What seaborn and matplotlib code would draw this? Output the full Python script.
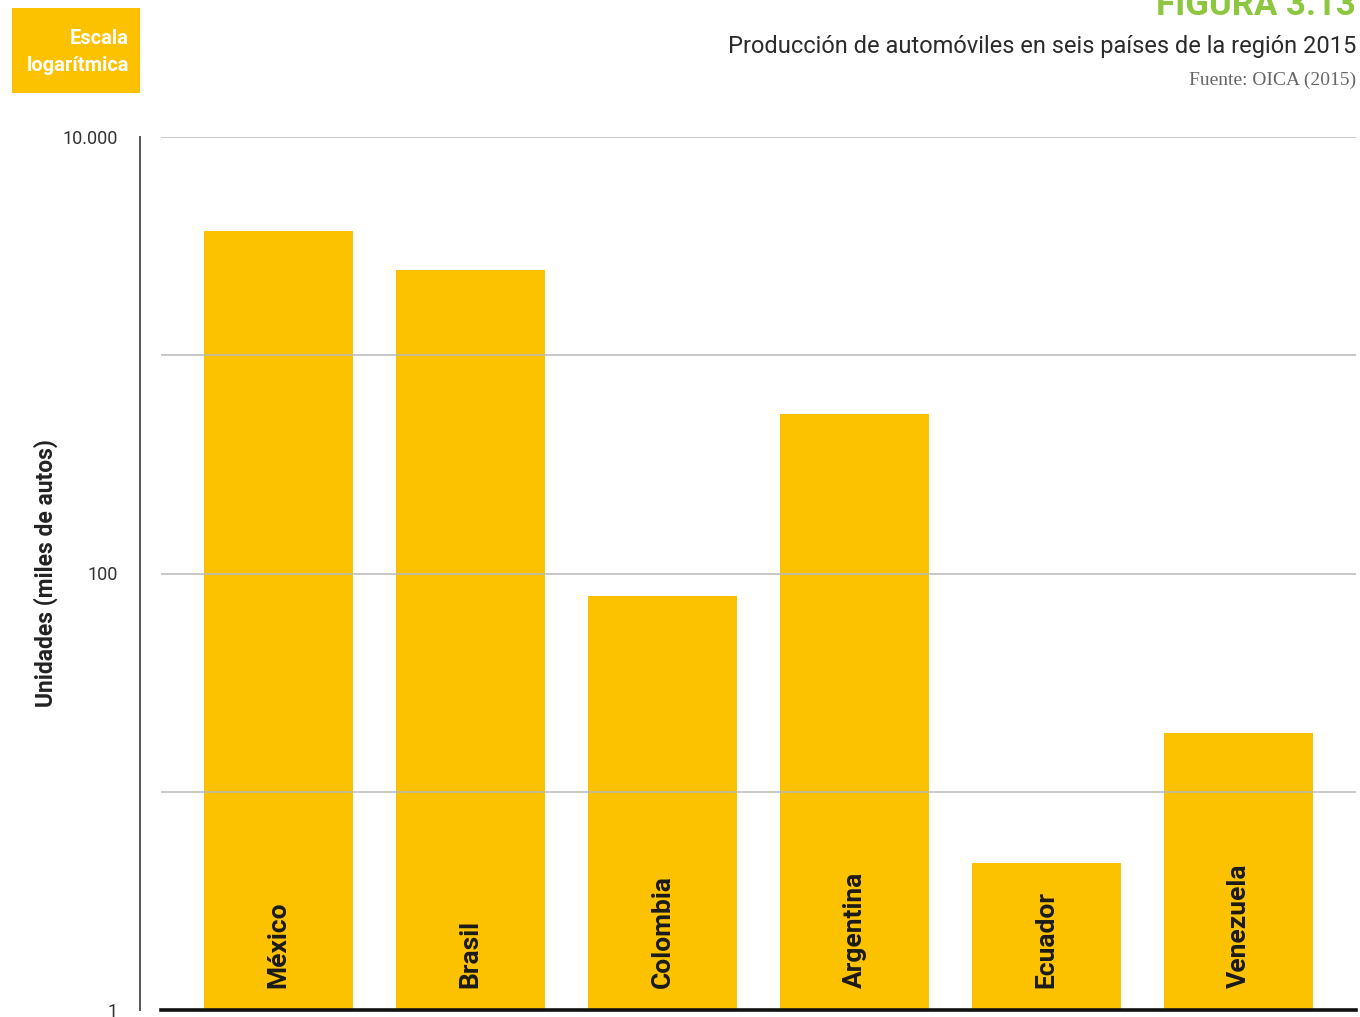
import matplotlib
matplotlib.use("Agg")
import matplotlib.pyplot as plt
import matplotlib.ticker as mticker
import seaborn as sns
import pandas as pd

countries = ["México", "Brasil", "Colombia", "Argentina", "Ecuador", "Venezuela"]
units = [3700, 2450, 79, 540, 4.7, 18.5]  # miles de autos
cap_tick_values = [1, 10000]
cap_tick_labels = ["1", "10.000"]
mid_tick_values = [100]
mid_tick_labels = ["100"]
grid_values = [10, 100, 1000, 10000]

title = "Producción de automóviles en seis países de la región 2015"
figure_tag = "FIGURA 3.13"
source = "Fuente: OICA (2015)"
ylabel = "Unidades (miles de autos)"
badge = "Escala\nlogarítmica"

YELLOW = "#FCC200"
GREEN = "#8DC63F"

sns.set_theme(style="white")
plt.rcParams["font.family"] = ["Roboto", "DejaVu Sans"]

df = pd.DataFrame({"pais": countries, "unidades": units})

fig = plt.figure(figsize=(13.6, 10.17), dpi=100)
W, H = 1360, 1017
ax = fig.add_axes([161 / W, 1 - 1010 / H, (1356 - 161) / W, (1010 - 137) / H])
ax.set_yscale("log")

sns.barplot(data=df, x="pais", y="unidades", color=YELLOW, saturation=1,
            width=0.776, ax=ax, errorbar=None)
for p in ax.patches:
    p.set_zorder(1)
    p.set_linewidth(0)

ax.set_ylim(1, 10000)
ax.set_xlim(-0.612, 5.612)

for g in grid_values:
    ax.axhline(g, color="#b9b9b9", lw=1.1, zorder=3)

# axis styling
for s in ["top", "right"]:
    ax.spines[s].set_visible(False)
ax.spines["bottom"].set_color("#111111")
ax.spines["bottom"].set_linewidth(2.6)
ax.spines["bottom"].set_zorder(4)
ax.spines["left"].set_position(("outward", 15))
ax.spines["left"].set_color("#555555")
ax.spines["left"].set_linewidth(1.4)

ax.yaxis.set_major_locator(mticker.FixedLocator(cap_tick_values))
ax.yaxis.set_major_formatter(mticker.FixedFormatter(cap_tick_labels))
ax.yaxis.set_minor_locator(mticker.FixedLocator(mid_tick_values))
ax.yaxis.set_minor_formatter(mticker.FixedFormatter(mid_tick_labels))
ax.tick_params(axis="y", which="major", length=6, width=1.4, direction="inout",
               color="#555555", pad=13, labelsize=13, labelcolor="#333333")
ax.tick_params(axis="y", which="minor", length=0, pad=16, labelsize=13,
               labelcolor="#333333")
ax.set_xticks([])
ax.set_xlabel("")
ax.set_ylabel("")

# country names inside bars
for i, name in enumerate(countries):
    ax.annotate(name, xy=(i, 1), xytext=(0, 16), textcoords="offset points",
                rotation=90, ha="center", va="bottom", fontsize=19,
                fontweight="bold", color="#1a1a1a", zorder=5)

# y label
fig.text(46 / W, 1 - 573 / H, ylabel, rotation=90, ha="center", va="center",
         fontsize=16.5, fontweight="bold", color="#222222")

# header texts
fig.text(1356 / W, 1 - 15 / H, figure_tag, ha="right", va="baseline",
         fontsize=25, fontweight="bold", color=GREEN)
fig.text(1356 / W, 1 - 46 / H, title, ha="right", va="center",
         fontsize=17, color="#2b2b2b")
fig.text(1356 / W, 1 - 80 / H, source, ha="right", va="center",
         fontsize=14, color="#666666", family=["Liberation Serif", "DejaVu Serif"])

# badge
badge_ax = fig.add_axes([12 / W, 1 - 93 / H, (140 - 12) / W, (93 - 8) / H])
badge_ax.set_facecolor(YELLOW)
for s in badge_ax.spines.values():
    s.set_visible(False)
badge_ax.set_xticks([])
badge_ax.set_yticks([])
badge_ax.text(0.915, 0.48, badge, ha="right", va="center", color="white",
              fontsize=14.5, fontweight="bold", linespacing=1.5,
              transform=badge_ax.transAxes)

fig.savefig("out.png", dpi=100, facecolor="white")
